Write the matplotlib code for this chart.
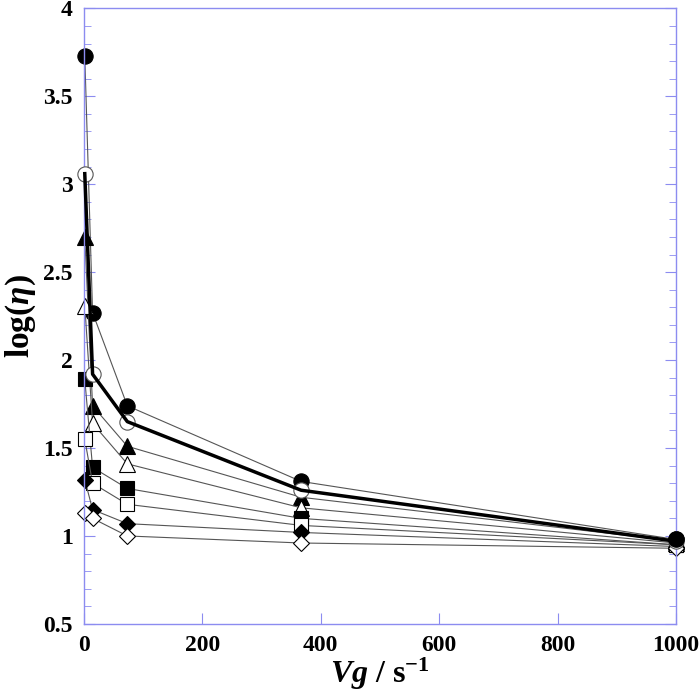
import numpy as np
import matplotlib.pyplot as plt
from matplotlib.ticker import MultipleLocator, FormatStrFormatter

# velocidad de deformacion (s^-1)
vg = [1.5, 14.7, 73.4, 367, 1000]

# log(eta) para cada serie
circulo_lleno = [3.73, 2.27, 1.74, 1.31, 0.98]
circulo_vacio = [3.06, 1.92, 1.65, 1.26, 0.97]
triangulo_lleno = [2.70, 1.74, 1.51, 1.22, 0.97]
triangulo_vacio = [2.31, 1.64, 1.41, 1.16, 0.96]
cuadro_lleno = [1.89, 1.39, 1.27, 1.10, 0.95]
cuadro_vacio = [1.55, 1.30, 1.18, 1.06, 0.95]
rombo_lleno = [1.32, 1.15, 1.07, 1.02, 0.94]
rombo_vacio = [1.13, 1.10, 1.00, 0.96, 0.93]

plt.rcParams['font.family'] = ['Liberation Serif', 'DejaVu Serif']
plt.rcParams['mathtext.fontset'] = 'custom'
plt.rcParams['mathtext.it'] = 'Liberation Serif:italic:bold'
plt.rcParams['mathtext.rm'] = 'Liberation Serif:bold'
plt.rcParams['mathtext.bf'] = 'Liberation Serif:bold'

fig = plt.figure(figsize=(6.99, 6.94), dpi=100)
ax = fig.add_axes([0.120, 0.101, 0.847, 0.887])

gris = '#555555'
series = [
    (circulo_lleno, 'o', 'black', 11),
    (triangulo_lleno, '^', 'black', 12),
    (triangulo_vacio, '^', 'white', 12),
    (cuadro_lleno, 's', 'black', 10.5),
    (cuadro_vacio, 's', 'white', 10.5),
    (rombo_lleno, 'D', 'black', 8.5),
    (rombo_vacio, 'D', 'white', 8.5),
]
for datos, m, relleno, ms in series:
    ax.plot(vg, datos, color=gris, lw=0.8, marker=m, ms=ms, clip_on=False,
            markerfacecolor=relleno, markeredgecolor='black', markeredgewidth=0.8)

ax.plot(vg, circulo_vacio, color=gris, lw=0.8, marker='o', ms=11, clip_on=False,
        markerfacecolor='white', markeredgecolor=gris, markeredgewidth=0.8, zorder=3)
ax.plot(vg, circulo_vacio, color='black', lw=2.5, zorder=4, clip_on=False)
ax.plot(vg[-1:], circulo_lleno[-1:], 'o', color='black', ms=11, zorder=5, clip_on=False)

ax.set_xlim(0, 1000)
ax.set_ylim(0.5, 4)
ax.xaxis.set_major_locator(MultipleLocator(200))
ax.yaxis.set_major_locator(MultipleLocator(0.5))
ax.yaxis.set_minor_locator(MultipleLocator(0.1))
ax.yaxis.set_major_formatter(FormatStrFormatter('%g'))

azul = '#8c8cf0'
for s in ax.spines.values():
    s.set_color(azul)
    s.set_linewidth(1.0)
ax.tick_params(axis='both', which='both', direction='in', color=azul,
               labelsize=17, pad=8)
ax.tick_params(axis='y', which='both', right=True)
ax.tick_params(axis='y', which='major', length=8)
ax.tick_params(axis='y', which='minor', length=5)
ax.tick_params(axis='x', which='major', length=8)
for lab in ax.get_xticklabels() + ax.get_yticklabels():
    lab.set_fontweight('bold')

ax.set_xlabel(r'$\mathit{Vg}$ / s$^{\mathbf{-1}}$', fontsize=23, fontweight='bold', labelpad=0)
ax.set_ylabel(r'log($\mathit{\eta}$)', fontsize=24, fontweight='bold', labelpad=4)

fig.savefig('out.png', dpi=100)
